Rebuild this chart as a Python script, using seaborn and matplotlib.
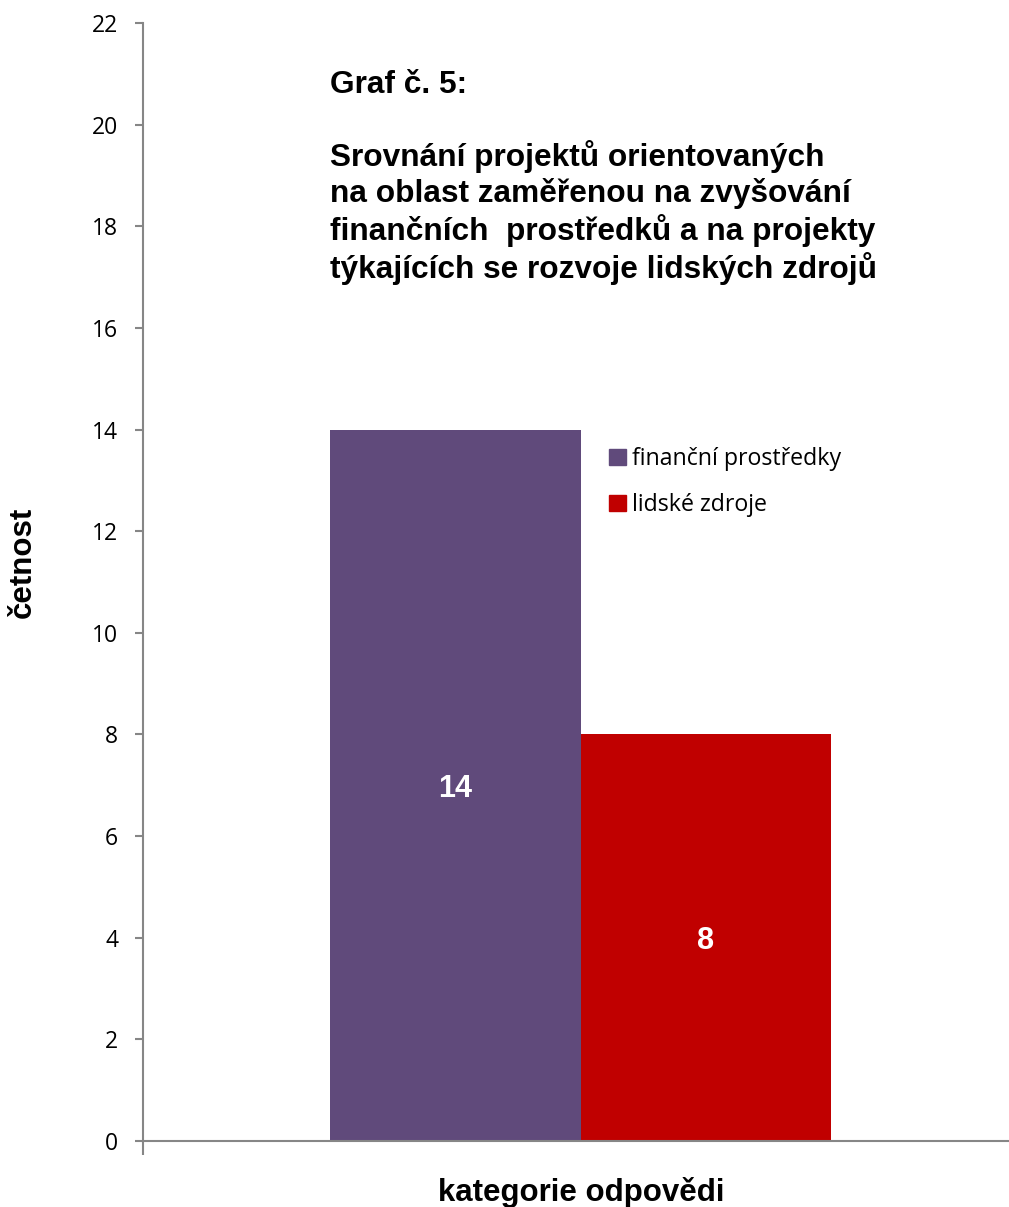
import matplotlib
matplotlib.use("Agg")
import matplotlib.pyplot as plt
import seaborn as sns
import pandas as pd
from matplotlib.patches import Patch

series = ["finanční prostředky", "lidské zdroje"]
values = [14, 8]
colors = ["#604A7B", "#C00000"]
yticks = list(range(0, 23, 2))
title = "Graf č. 5:\n\nSrovnání projektů orientovaných\nna oblast zaměřenou na zvyšování\nfinančních  prostředků a na projekty\ntýkajících se rozvoje lidských zdrojů"
xlabel = "kategorie odpovědi"
ylabel = "četnost"

sns.set_style("white")
plt.rcParams['font.family'] = ['Liberation Sans', 'DejaVu Sans']
plt.rcParams['text.color'] = 'black'
plt.rcParams['axes.labelcolor'] = 'black'
plt.rcParams['xtick.color'] = 'black'
plt.rcParams['ytick.color'] = 'black'

df = pd.DataFrame({"series": series, "value": values})

fig = plt.figure(figsize=(10.09, 12.07), dpi=100)
ax = fig.add_axes([143/1009, 1 - 1141/1207, 1 - 143/1009, (1141 - 23)/1207])

sns.barplot(data=df, x="series", y="value", hue="series", palette=colors,
            width=1.0, dodge=False, legend=False, ax=ax, saturation=1, linewidth=0)

ax.set_xlim(-1.245, 2.209)
ax.set_ylim(0, 22)
ax.set_yticks(yticks)
ax.set_yticklabels([str(t) for t in yticks], family=['Open Sans', 'DejaVu Sans'], fontsize=16.5)
ax.set_xticks([-1.245])
ax.set_xticklabels([""])
ax.tick_params(axis='y', left=True, direction='out', length=6, width=1.5, color="#868686", pad=12)
ax.tick_params(axis='x', bottom=True, direction='out', length=10, width=1.5, color="#868686")

for s in ["top", "right"]:
    ax.spines[s].set_visible(False)
for s in ["left", "bottom"]:
    ax.spines[s].set_color("#868686")
    ax.spines[s].set_linewidth(1.5)

for i, (v, c) in enumerate(zip(values, colors)):
    ax.text(i, v / 2, str(v), ha="center", va="center_baseline", color="white",
            fontsize=22, fontweight="bold")

ax.set_xlabel(xlabel, fontsize=22.5, fontweight="bold")
ax.xaxis.set_label_coords(0.5 + (581 - 576) / 866, -(1177 - 1141) / 1118)
ax.xaxis.label.set_verticalalignment('top')
ax.set_ylabel(ylabel, fontsize=22.5, fontweight="bold")
ax.yaxis.set_label_coords(-(143 - 38) / 866, (1141 - 562) / 1118)

ax.text((330 - 143) / 866, (1141 - 70) / 1118, title, transform=ax.transAxes,
        ha="left", va="top", fontsize=22.8, fontweight="bold", linespacing=1.2)

handles = [Patch(facecolor=c, edgecolor=c) for c in colors]
ax.legend(handles, series, loc="upper left", bbox_to_anchor=((600 - 143) / 866, (1141 - 438) / 1118),
          frameon=False, prop={'family': ['Open Sans', 'DejaVu Sans'], 'size': 16.7},
          handlelength=0.7, handleheight=0.7, handletextpad=0.3, labelspacing=0.95,
          borderaxespad=0)

fig.savefig("out.png", dpi=100)
